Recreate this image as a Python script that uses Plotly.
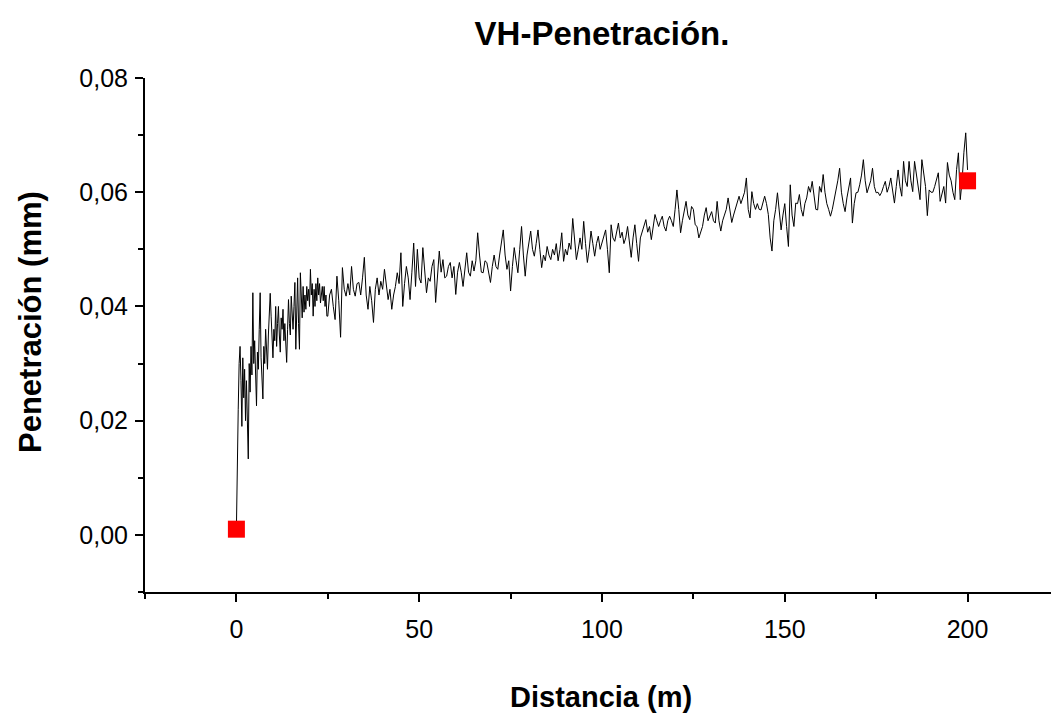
import plotly.graph_objects as go

# penetration readings, first 25 m sampled every 0.25 m
dist0_start = 0.0
dist0_step = 0.25
pen_start = [
    0.001, 0.015, 0.022, 0.030, 0.033, 0.027, 0.019, 0.031, 0.024, 0.029,
    0.020, 0.027, 0.022, 0.0133, 0.030, 0.025, 0.033, 0.028, 0.0424, 0.030,
    0.034, 0.026, 0.0226, 0.032, 0.029, 0.036, 0.0424, 0.031, 0.027, 0.0238,
    0.033, 0.030, 0.036, 0.032, 0.029, 0.035, 0.038, 0.0423, 0.0383, 0.033,
    0.031, 0.036, 0.034, 0.040, 0.033, 0.037, 0.040, 0.035, 0.032, 0.038,
    0.036, 0.0395, 0.034, 0.037, 0.033, 0.0302, 0.036, 0.0412, 0.037, 0.035,
    0.0418, 0.038, 0.036, 0.040, 0.0442, 0.0325, 0.039, 0.045, 0.037, 0.0325,
    0.0459, 0.040, 0.038, 0.0435, 0.039, 0.042, 0.0395, 0.0435, 0.041, 0.043,
    0.040, 0.0465, 0.042, 0.044, 0.0383, 0.043, 0.040, 0.044, 0.041, 0.045,
    0.042, 0.044, 0.0406, 0.042, 0.0435, 0.041, 0.0435, 0.040, 0.042, 0.0383,
]

# rest of the run, 25 m to 200 m every 0.5 m
dist1_start = 25.0
dist1_step = 0.5
pen_rest = [
    0.0383, 0.042, 0.043, 0.040, 0.0377, 0.0453, 0.041, 0.0346, 0.0468, 0.043,
    0.0418, 0.044, 0.042, 0.047, 0.043, 0.0418, 0.044, 0.0442, 0.042, 0.045,
    0.0486, 0.042, 0.0395, 0.0435, 0.041, 0.0372, 0.043, 0.045, 0.042, 0.0444,
    0.043, 0.0465, 0.044, 0.0412, 0.043, 0.0395, 0.042, 0.0435, 0.0459, 0.044,
    0.0494, 0.040, 0.044, 0.047, 0.045, 0.0412, 0.046, 0.0511, 0.0435, 0.050,
    0.045, 0.0441, 0.0503, 0.046, 0.0424, 0.045, 0.0444, 0.047, 0.0482, 0.0407,
    0.046, 0.0497, 0.046, 0.0482, 0.045, 0.0453, 0.047, 0.0477, 0.045, 0.047,
    0.0421, 0.046, 0.0477, 0.046, 0.0435, 0.047, 0.0494, 0.046, 0.0453, 0.048,
    0.0462, 0.048, 0.0529, 0.049, 0.046, 0.0459, 0.048, 0.0477, 0.046, 0.0442,
    0.047, 0.049, 0.047, 0.0465, 0.049, 0.051, 0.0534, 0.049, 0.0465, 0.048,
    0.0427, 0.047, 0.0503, 0.048, 0.0459, 0.050, 0.054, 0.049, 0.0453, 0.049,
    0.051, 0.0532, 0.050, 0.0488, 0.051, 0.0534, 0.050, 0.0468, 0.049, 0.048,
    0.0505, 0.049, 0.0482, 0.050, 0.049, 0.051, 0.048, 0.050, 0.0529, 0.0479,
    0.050, 0.049, 0.0511, 0.050, 0.0554, 0.051, 0.0482, 0.050, 0.052, 0.050,
    0.0549, 0.051, 0.0477, 0.050, 0.0532, 0.051, 0.0488, 0.051, 0.0523, 0.050,
    0.051, 0.052, 0.0534, 0.050, 0.0459, 0.0543, 0.052, 0.0514, 0.053, 0.0546,
    0.052, 0.053, 0.051, 0.052, 0.054, 0.051, 0.0486, 0.052, 0.0543, 0.051,
    0.0479, 0.052, 0.053, 0.054, 0.0552, 0.053, 0.054, 0.0517, 0.054, 0.0561,
    0.055, 0.054, 0.055, 0.0558, 0.054, 0.0532, 0.055, 0.0558, 0.055, 0.054,
    0.057, 0.0604, 0.057, 0.0529, 0.055, 0.057, 0.0584, 0.056, 0.0552, 0.0575,
    0.057, 0.0543, 0.054, 0.052, 0.053, 0.054, 0.056, 0.0573, 0.055, 0.056,
    0.0566, 0.055, 0.0546, 0.0584, 0.055, 0.0532, 0.055, 0.056, 0.057, 0.059,
    0.057, 0.0547, 0.056, 0.057, 0.058, 0.0593, 0.058, 0.059, 0.060, 0.0625,
    0.057, 0.0555, 0.0601, 0.058, 0.057, 0.058, 0.057, 0.0569, 0.058, 0.0593,
    0.058, 0.0561, 0.052, 0.0497, 0.055, 0.057, 0.0599, 0.057, 0.0534, 0.056,
    0.058, 0.054, 0.0505, 0.0613, 0.056, 0.054, 0.0581, 0.058, 0.0596, 0.057,
    0.0558, 0.058, 0.059, 0.061, 0.060, 0.0619, 0.059, 0.057, 0.0569, 0.061,
    0.060, 0.0631, 0.060, 0.058, 0.057, 0.0558, 0.057, 0.0587, 0.060, 0.062,
    0.0642, 0.060, 0.058, 0.0566, 0.059, 0.061, 0.0625, 0.0546, 0.058, 0.0599,
    0.060, 0.0613, 0.063, 0.0657, 0.062, 0.0599, 0.061, 0.062, 0.0642, 0.061,
    0.0599, 0.060, 0.0594, 0.060, 0.061, 0.0619, 0.060, 0.061, 0.0625, 0.060,
    0.0581, 0.061, 0.0639, 0.061, 0.0593, 0.0654, 0.062, 0.061, 0.0654, 0.062,
    0.0601, 0.0654, 0.063, 0.061, 0.0587, 0.0657, 0.063, 0.061, 0.0559, 0.0604,
    0.060, 0.060, 0.061, 0.062, 0.0634, 0.0584, 0.060, 0.061, 0.0581, 0.0652,
    0.063, 0.062, 0.060, 0.0587, 0.064, 0.0669, 0.0587, 0.062, 0.067, 0.0704,
    0.0639,
]

# highlighted start / end points
mark_dist = [0, 200]
mark_pen = [0.001, 0.062]

dist = [dist0_start + i * dist0_step for i in range(len(pen_start))]
dist += [dist1_start + i * dist1_step for i in range(len(pen_rest))]
pen = pen_start + pen_rest

font = 'Liberation Sans, Arial, sans-serif'

traces = []
traces.append(go.Scatter(
    x=dist,
    y=pen,
    mode='lines',
    line=dict(color='black', width=1),
))
traces.append(go.Scatter(
    x=mark_dist,
    y=mark_pen,
    mode='markers',
    marker=dict(symbol='square', size=17, color='#ff0000'),
))

axis_common = dict(
    showgrid=False,
    zeroline=False,
    showline=True,
    linecolor='black',
    linewidth=2,
    ticks='outside',
    ticklen=8,
    tickwidth=1.5,
    tickcolor='black',
    tickfont=dict(family=font, size=25, color='black'),
)

# page body has an 8px margin; the x axis runs off the right edge of the window
layout = go.Layout(
    width=1059,
    height=715,
    showlegend=False,
    plot_bgcolor='white',
    paper_bgcolor='white',
    separators=',.',
    margin=dict(l=137, r=0, t=70, b=131),
    title=dict(
        text='<b>VH-Penetración.</b>',
        x=594 / 1059, xanchor='center', xref='container',
        y=1 - 25 / 715, yanchor='middle',
        font=dict(family=font, size=33, color='black'),
    ),
    xaxis=dict(
        range=[-25, 227.2],
        tick0=0, dtick=50,
        minor=dict(ticks='outside', ticklen=5, dtick=25, tick0=0, tickwidth=1.5, tickcolor='black'),
        ticklabelstandoff=6,
        **axis_common,
    ),
    yaxis=dict(
        range=[-0.01, 0.08],
        tick0=0, dtick=0.02, tickformat='.2f',
        minor=dict(ticks='outside', ticklen=5, dtick=0.01, tick0=0, tickwidth=1.5, tickcolor='black'),
        ticklabelstandoff=2,
        **axis_common,
    ),
    annotations=[
        dict(
            text='<b>Distancia (m)</b>',
            xref='paper', yref='paper',
            x=456 / 922, y=-105 / 514,
            xanchor='center', yanchor='middle',
            showarrow=False,
            font=dict(family=font, size=29, color='black'),
        ),
        dict(
            text='<b>Penetración (mm)</b>',
            xref='paper', yref='paper',
            x=-115 / 922, y=270 / 514,
            xanchor='center', yanchor='middle',
            textangle=-90,
            showarrow=False,
            font=dict(family=font, size=31, color='black'),
        ),
    ],
)

fig = go.Figure(data=traces, layout=layout)
fig.write_html('out.html')
